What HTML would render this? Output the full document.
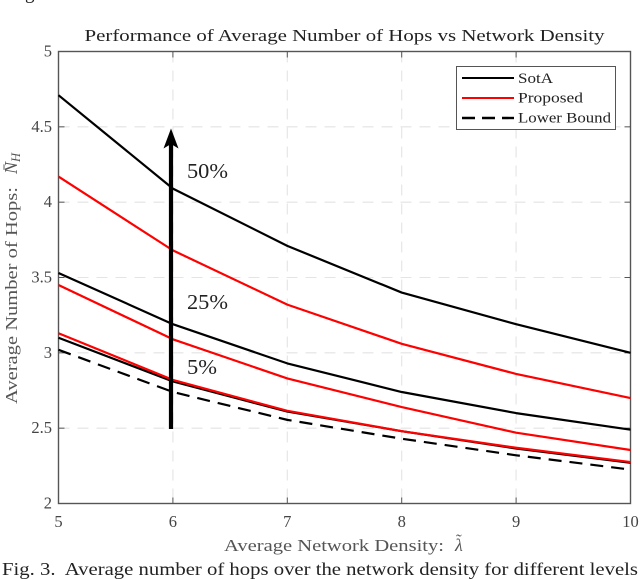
<!DOCTYPE html>
<html>
<head>
<meta charset="utf-8">
<style>
html,body{margin:0;padding:0;background:#fff;width:640px;height:579px;overflow:hidden}
svg{display:block}
text{font-family:"Liberation Serif",serif}
</style>
</head>
<body>
<svg id="chart" xmlns="http://www.w3.org/2000/svg" width="640" height="579" viewBox="0 0 640 579"></svg>
<script>
const xCategories = [5, 6, 7, 8, 9, 10];
const xTickLabels = ['5', '6', '7', '8', '9', '10'];
const yTicks = [2, 2.5, 3, 3.5, 4, 4.5, 5];
const yTickLabels = ['2', '2.5', '3', '3.5', '4', '4.5', '5'];
const sota50 = [4.71, 4.09, 3.71, 3.40, 3.19, 3.00];
const proposed50 = [4.17, 3.68, 3.32, 3.06, 2.86, 2.70];
const sota25 = [3.53, 3.19, 2.93, 2.74, 2.60, 2.49];
const proposed25 = [3.45, 3.09, 2.83, 2.64, 2.47, 2.355];
const sota5 = [3.10, 2.81, 2.61, 2.48, 2.365, 2.27];
const proposed5 = [3.13, 2.82, 2.615, 2.48, 2.37, 2.275];
const lowerBound = [3.02, 2.74, 2.555, 2.43, 2.32, 2.225];

const NS = 'http://www.w3.org/2000/svg';
const svg = document.getElementById('chart');
const L = 58.5, R = 630.5, T = 51.5, B = 503.5;
const xScale = v => L + (v - 5) / 5 * (R - L);
const yScale = v => B - (v - 2) / 3 * (B - T);

function make(tag, attrs, text) {
  const el = document.createElementNS(NS, tag);
  for (const k in attrs) el.setAttribute(k, attrs[k]);
  if (text !== undefined) el.textContent = text;
  svg.appendChild(el);
  return el;
}

// grid lines
xCategories.slice(1, -1).forEach(v => {
  const el = make('line', {x1: xScale(v), x2: xScale(v), y1: T, y2: B, stroke: '#e4e4e4', 'stroke-width': 1.1, 'stroke-dasharray': '11 8'});
  
  
});
yTicks.slice(1, -1).forEach(v => {
  const el = make('line', {x1: L, x2: R, y1: yScale(v), y2: yScale(v), stroke: '#e4e4e4', 'stroke-width': 1.1, 'stroke-dasharray': '11 8'});
  
  
});

// axes box
const box = make('rect', {x: L, y: T, width: R - L, height: B - T, fill: 'none', stroke: '#555', 'stroke-width': 1.4});



// ticks and labels
xCategories.forEach((v, i) => {
  const x = xScale(v);
  const t1 = make('line', {x1: x, x2: x, y1: B, y2: B - 6, stroke: '#555', 'stroke-width': 1});
  
  
  const t2 = make('line', {x1: x, x2: x, y1: T, y2: T + 6, stroke: '#555', 'stroke-width': 1});
  
  
  const lab = make('text', {x: x, y: 527, 'text-anchor': 'middle', 'font-size': 16.5, fill: '#444'}, xTickLabels[i]);
  
  
});
yTicks.forEach((v, i) => {
  const y = yScale(v);
  const t1 = make('line', {x1: L, x2: L + 6, y1: y, y2: y, stroke: '#555', 'stroke-width': 1});
  
  
  const t2 = make('line', {x1: R, x2: R - 6, y1: y, y2: y, stroke: '#555', 'stroke-width': 1});
  
  
  const lab = make('text', {x: 52, y: y + 5, 'text-anchor': 'end', 'font-size': 16.5, fill: '#444'}, yTickLabels[i]);
  
  
});

function drawSeries(values, color, name, dash) {
  const pts = values.map((v, i) => xScale(xCategories[i]) + ',' + yScale(v)).join(' ');
  const attrs = {points: pts, fill: 'none', stroke: color, 'stroke-width': 2.2, 'stroke-linejoin': 'round'};
  if (dash) attrs['stroke-dasharray'] = dash;
  const el = make('polyline', attrs);
  
  
}
drawSeries(sota50, '#000', 'sota-50-line');
drawSeries(proposed50, '#f00', 'proposed-50-line');
drawSeries(sota25, '#000', 'sota-25-line');
drawSeries(proposed25, '#f00', 'proposed-25-line');
drawSeries(sota5, '#000', 'sota-5-line');
drawSeries(proposed5, '#f00', 'proposed-5-line');
drawSeries(lowerBound, '#000', 'lower-bound-line', '13 8');

// arrow
const shaft = make('line', {x1: 171, x2: 171, y1: 429, y2: 140, stroke: '#000', 'stroke-width': 4.2});


const head = make('polygon', {points: '171,128.5 178.5,148.5 171,144 163.5,148.5', fill: '#000'});


</script>
<script>
(function () {
  const s = document.getElementById('chart');
  const markup = `
  <text x="344.5" y="41" text-anchor="middle" font-size="17" fill="#222" textLength="520" lengthAdjust="spacingAndGlyphs">Performance of Average Number of Hops vs Network Density</text>
  <text x="25" y="-1" font-size="19" fill="#222">g</text>
  <text x="187" y="178" font-size="21" fill="#222" textLength="41" lengthAdjust="spacingAndGlyphs">50%</text>
  <text x="187" y="309" font-size="21" fill="#222" textLength="41" lengthAdjust="spacingAndGlyphs">25%</text>
  <text x="187" y="374" font-size="21" fill="#222" textLength="30" lengthAdjust="spacingAndGlyphs">5%</text>
  <g>
    <rect x="456.5" y="66.5" width="159" height="63" fill="#fff" stroke="#555" stroke-width="1"/>
    <line x1="462" x2="514" y1="78" y2="78" stroke="#000" stroke-width="2"/>
    <text x="518" y="83" font-size="14.5" fill="#222" textLength="35" lengthAdjust="spacingAndGlyphs">SotA</text>
    <line x1="462" x2="514" y1="98" y2="98" stroke="#f00" stroke-width="2"/>
    <text x="518" y="102.5" font-size="14.5" fill="#222" textLength="65" lengthAdjust="spacingAndGlyphs">Proposed</text>
    <line x1="462" x2="514" y1="118" y2="118" stroke="#000" stroke-width="2.4" stroke-dasharray="13 7"/>
    <text x="518" y="122.5" font-size="14.5" fill="#222" textLength="93" lengthAdjust="spacingAndGlyphs">Lower Bound</text>
  </g>
  <text x="224" y="551" font-size="17" fill="#555" textLength="220" lengthAdjust="spacingAndGlyphs">Average Network Density:</text>
  <text x="455" y="551" font-size="18" font-style="italic" fill="#555">λ</text>
  <text x="456" y="546" font-size="17" fill="#555">˜</text>
  <g transform="translate(17,404) rotate(-90)">
    <text x="0" y="0" font-size="17" fill="#555" textLength="217" lengthAdjust="spacingAndGlyphs">Average Number of Hops:</text>
    <text x="230" y="0" font-size="18" font-style="italic" fill="#555">N̄<tspan font-size="12.5" dy="3">H</tspan></text>
  </g>
  <text x="2" y="575" font-size="18" fill="#222" textLength="636" lengthAdjust="spacingAndGlyphs" xml:space="preserve">Fig. 3.  Average number of hops over the network density for different levels</text>`;
  const wrap = document.createElementNS('http://www.w3.org/2000/svg', 'g');
  wrap.innerHTML = markup;
  
  
  s.appendChild(wrap);
})();
</script>
</body>
</html>
